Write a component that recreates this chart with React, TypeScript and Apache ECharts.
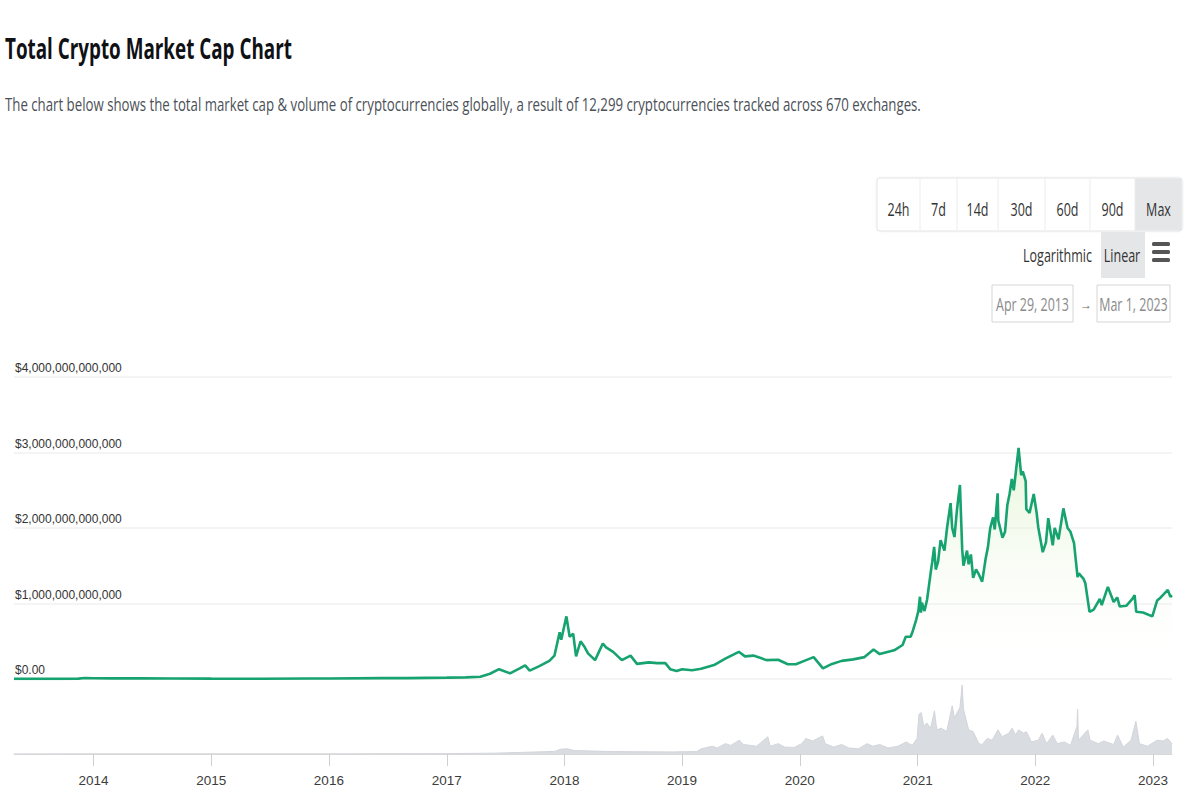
import React, { useEffect, useRef } from "react";
import * as echarts from "echarts";

// ---- Data ----
const title = "Total Crypto Market Cap Chart";
const subtitle =
  "The chart below shows the total market cap & volume of cryptocurrencies globally, a result of 12,299 cryptocurrencies tracked across 670 exchanges.";
const rangeButtons = ["24h", "7d", "14d", "30d", "60d", "90d", "Max"];
const startDate = "2013-04-29";
const endDate = "2023-03-01";
const startLabel = "Apr 29, 2013";
const endLabel = "Mar 1, 2023";
const yearLabels = ["2014", "2015", "2016", "2017", "2018", "2019", "2020", "2021", "2022", "2023"];

// Total market cap, billions of USD
const capDates = [
  "2013-04-29", "2013-07-01", "2013-10-01", "2013-11-15", "2013-12-04", "2014-01-01", "2014-03-01", "2014-06-01",
  "2014-09-01", "2015-01-01", "2015-06-01", "2015-11-04", "2016-01-01", "2016-06-15", "2016-09-01", "2017-01-01",
  "2017-03-01", "2017-04-15", "2017-05-15", "2017-06-12", "2017-07-16", "2017-08-15", "2017-09-01", "2017-09-15",
  "2017-10-15", "2017-11-15", "2017-12-01", "2017-12-17", "2017-12-22", "2018-01-07", "2018-01-17", "2018-01-28",
  "2018-02-06", "2018-02-20", "2018-03-05", "2018-03-15", "2018-04-06", "2018-04-30", "2018-05-10", "2018-06-01",
  "2018-06-28", "2018-07-25", "2018-08-14", "2018-09-20", "2018-10-15", "2018-11-10", "2018-11-25", "2018-12-15",
  "2019-01-01", "2019-02-01", "2019-03-01", "2019-04-10", "2019-05-15", "2019-06-26", "2019-07-15", "2019-08-10",
  "2019-09-20", "2019-10-26", "2019-11-25", "2019-12-20", "2020-01-15", "2020-02-13", "2020-03-13", "2020-04-10",
  "2020-05-10", "2020-06-15", "2020-07-20", "2020-08-17", "2020-09-05", "2020-10-20", "2020-11-15", "2020-11-25",
  "2020-12-10", "2020-12-17", "2020-12-27", "2021-01-03", "2021-01-08", "2021-01-11", "2021-01-14", "2021-01-22",
  "2021-01-30", "2021-02-10", "2021-02-15", "2021-02-21", "2021-02-26", "2021-03-05", "2021-03-13", "2021-03-25",
  "2021-04-02", "2021-04-13", "2021-04-18", "2021-04-25", "2021-05-03", "2021-05-12", "2021-05-19", "2021-05-23",
  "2021-06-03", "2021-06-08", "2021-06-15", "2021-06-22", "2021-07-01", "2021-07-08", "2021-07-20", "2021-07-31",
  "2021-08-07", "2021-08-14", "2021-08-23", "2021-08-28", "2021-09-06", "2021-09-08", "2021-09-21", "2021-09-29",
  "2021-10-06", "2021-10-13", "2021-10-20", "2021-10-26", "2021-11-10", "2021-11-18", "2021-11-23", "2021-12-02",
  "2021-12-04", "2021-12-14", "2021-12-27", "2022-01-05", "2022-01-10", "2022-01-24", "2022-02-03", "2022-02-10",
  "2022-02-24", "2022-03-02", "2022-03-14", "2022-03-29", "2022-04-11", "2022-04-20", "2022-05-01", "2022-05-12",
  "2022-05-16", "2022-05-30", "2022-06-05", "2022-06-18", "2022-07-01", "2022-07-20", "2022-07-26", "2022-08-14",
  "2022-09-01", "2022-09-12", "2022-09-20", "2022-10-10", "2022-10-29", "2022-11-05", "2022-11-10", "2022-12-01",
  "2022-12-30", "2023-01-14", "2023-01-25", "2023-02-16", "2023-02-24", "2023-03-01",
];
const capValues = [
  1.6, 1.2, 1.6, 5, 14, 10, 8, 8,
  6.5, 4.5, 3.5, 6.5, 7, 12, 11, 18,
  22, 30, 70, 130, 75, 140, 180, 110,
  170, 240, 310, 620, 520, 830, 560, 600,
  300, 500, 420, 340, 250, 470, 420, 360,
  250, 310, 200, 220, 210, 210, 130, 105,
  130, 115, 135, 185, 270, 360, 300, 310,
  250, 255, 195, 195, 240, 290, 140, 200,
  240, 260, 290, 390, 330, 380, 450, 560,
  560, 640, 780, 900, 1090, 880, 1010, 900,
  1050, 1400, 1550, 1750, 1450, 1550, 1840, 1700,
  2000, 2330, 2000, 1880, 2250, 2570, 1720, 1500,
  1700, 1520, 1650, 1340, 1450, 1400, 1290, 1600,
  1750, 2000, 2140, 1980, 2460, 2100, 1870, 1950,
  2300, 2450, 2650, 2500, 3060, 2700, 2750, 2620,
  2250, 2200, 2450, 2200, 2010, 1680, 1810, 2130,
  1770, 2000, 1850, 2260, 2000, 1950, 1800, 1350,
  1400, 1330, 1270, 890, 920, 1060, 980, 1220,
  1020, 1080, 960, 970, 1060, 1110, 890, 880,
  830, 1040, 1080, 1180, 1090, 1110,
];

// Total volume, billions of USD
const volDates = [
  "2013-04-29", "2014-01-01", "2016-01-01", "2017-01-01", "2017-06-01", "2017-12-01", "2017-12-20", "2018-01-10",
  "2018-02-01", "2018-06-01", "2018-12-01", "2019-01-01", "2019-02-15", "2019-03-01", "2019-04-05", "2019-04-20",
  "2019-05-15", "2019-06-01", "2019-06-27", "2019-07-10", "2019-08-01", "2019-08-20", "2019-09-24", "2019-10-01",
  "2019-10-26", "2019-11-15", "2019-12-15", "2020-01-07", "2020-01-20", "2020-02-10", "2020-03-12", "2020-03-20",
  "2020-04-15", "2020-05-10", "2020-06-01", "2020-07-01", "2020-07-28", "2020-08-15", "2020-09-05", "2020-10-01",
  "2020-11-01", "2020-11-26", "2020-12-15", "2020-12-30", "2021-01-05", "2021-01-12", "2021-01-20", "2021-01-29",
  "2021-02-10", "2021-02-22", "2021-03-01", "2021-03-15", "2021-04-01", "2021-04-18", "2021-04-25", "2021-05-12",
  "2021-05-19", "2021-05-23", "2021-06-08", "2021-06-22", "2021-07-10", "2021-07-20", "2021-08-05", "2021-08-20",
  "2021-09-07", "2021-09-20", "2021-10-10", "2021-10-21", "2021-11-01", "2021-11-10", "2021-11-26", "2021-12-04",
  "2021-12-20", "2022-01-10", "2022-01-22", "2022-02-05", "2022-02-24", "2022-03-10", "2022-04-01", "2022-04-20",
  "2022-05-10", "2022-05-12", "2022-05-15", "2022-06-13", "2022-06-20", "2022-07-15", "2022-08-01", "2022-09-01",
  "2022-09-13", "2022-10-01", "2022-10-25", "2022-11-09", "2022-11-20", "2022-12-15", "2023-01-14", "2023-02-01",
  "2023-02-15", "2023-03-01",
];
const volValues = [
  0.5, 1, 1, 2, 5, 15, 28, 30,
  20, 14, 12, 13, 14, 30, 45, 35,
  60, 50, 80, 55, 50, 45, 100, 45,
  60, 40, 38, 60, 90, 75, 105, 60,
  40, 55, 35, 30, 60, 45, 55, 35,
  45, 70, 50, 90, 230, 240, 160, 180,
  150, 250, 140, 150, 130, 280, 210, 270,
  400, 260, 140, 130, 60, 55, 90, 80,
  140, 100, 120, 150, 110, 140, 120, 130,
  70, 80, 120, 60, 110, 60, 70, 50,
  160, 260, 80, 140, 80, 60, 75, 55,
  110, 40, 80, 190, 60, 45, 80, 75,
  90, 60,
];

const FONT = '"Open Sans", "Noto Sans", sans-serif';
const AXIS_FONT = '"Liberation Sans", Arial, sans-serif';

const ts = (d: string) => {
  const [y, m, dd] = d.split("-").map(Number);
  return Date.UTC(y, m - 1, dd);
};

// horizontal squeeze factor so that a text spans a given width
const fitScale = (text: string, size: number, weight: string, width: number) => {
  const ctx = document.createElement("canvas").getContext("2d");
  if (!ctx) return 1;
  ctx.font = `${weight} ${size}px ${FONT}`;
  const w = ctx.measureText(text).width;
  return w > 0 ? width / w : 1;
};

export default function App() {
  const ref = useRef<HTMLDivElement>(null);

  useEffect(() => {
    if (!ref.current) return;
    const chart = echarts.init(ref.current, null, { renderer: "svg" });

    const capData = capDates.map((d, i) => [ts(d), capValues[i] * 1e9]);
    const volData = volDates.map((d, i) => [ts(d), volValues[i] * 1e9]);
    const yearTicks = yearLabels.map((y) => Date.UTC(Number(y), 0, 1));
    const xMin = ts(startDate);
    const xMax = ts(endDate);

    const titleScale = fitScale(title, 29, "bold", 287);
    const subScale = fitScale(subtitle, 19, "normal", 917);
    const btnScale = fitScale("Logarithmic", 19, "normal", 69);
    const dateScale = fitScale(startLabel, 18, "normal", 73);

    const txt = (text: string, x: number, y: number, size: number, scale: number, fill: string, align = "center", weight = "normal") => ({
      type: "text",
      x,
      y,
      scaleX: scale,
      style: {
        text,
        fontSize: size,
        fontWeight: weight,
        fontFamily: FONT,
        fill,
        align,
        verticalAlign: "middle",
      },
    });

    // range buttons layout
    const btnEdges = [877, 920, 957, 998, 1045, 1090, 1135, 1182];
    const btnElems: any[] = [];
    btnElems.push({
      type: "rect",
      shape: { x: 877, y: 178, width: 305, height: 53, r: 3 },
      style: { fill: "#ffffff", stroke: "#e4e4e4", lineWidth: 1, shadowBlur: 3, shadowColor: "rgba(0,0,0,0.06)" },
    });
    btnElems.push({
      type: "rect",
      shape: { x: 1135, y: 178.5, width: 46.5, height: 52 },
      style: { fill: "#e5e6e8" },
    });
    for (let i = 1; i < btnEdges.length - 1; i++) {
      btnElems.push({
        type: "line",
        shape: { x1: btnEdges[i], y1: 179, x2: btnEdges[i], y2: 230 },
        style: { stroke: "#ececec", lineWidth: 1 },
      });
    }
    rangeButtons.forEach((b, i) => {
      btnElems.push(txt(b, (btnEdges[i] + btnEdges[i + 1]) / 2, 209, 19, btnScale, "#333"));
    });

    const option: any = {
      animation: false,
      backgroundColor: "#ffffff",
      graphic: [
        txt(title, 5, 48, 29, titleScale, "#0f1115", "left", "bold"),
        txt(subtitle, 5, 104, 19, subScale, "#4b5057", "left"),
        ...btnElems,
        {
          type: "rect",
          shape: { x: 1101, y: 232, width: 44, height: 46 },
          style: { fill: "#e5e6e8" },
        },
        txt("Logarithmic", 1057.5, 255, 19, btnScale, "#333"),
        txt("Linear", 1122, 255, 19, btnScale, "#333"),
        { type: "rect", shape: { x: 1152, y: 242, width: 18, height: 4, r: 1.5 }, style: { fill: "#555" } },
        { type: "rect", shape: { x: 1152, y: 250, width: 18, height: 4, r: 1.5 }, style: { fill: "#555" } },
        { type: "rect", shape: { x: 1152, y: 258, width: 18, height: 4, r: 1.5 }, style: { fill: "#555" } },
        {
          type: "rect",
          shape: { x: 992, y: 285, width: 81, height: 37 },
          style: { fill: "#fff", stroke: "#d6d6d6", lineWidth: 1 },
        },
        txt(startLabel, 1032.5, 304, 18, dateScale, "#8a8a8a"),
        txt("→", 1086, 304, 12, 1, "#666"),
        {
          type: "rect",
          shape: { x: 1097, y: 285, width: 73, height: 37 },
          style: { fill: "#fff", stroke: "#d6d6d6", lineWidth: 1 },
        },
        txt(endLabel, 1133.5, 304, 18, dateScale, "#8a8a8a"),
      ],
      grid: [
        { left: 14, right: 28, top: 377, height: 302 },
        { left: 14, right: 28, top: 685, height: 69 },
      ],
      xAxis: [
        {
          type: "value",
          gridIndex: 0,
          min: xMin,
          max: xMax,
          show: false,
          splitLine: { show: false },
        },
        {
          type: "value",
          gridIndex: 1,
          min: xMin,
          max: xMax,
          axisLine: { show: true, lineStyle: { color: "#d8d8d8", width: 1 } },
          axisTick: {
            show: true,
            length: 12,
            lineStyle: { color: "#cfcfcf" },
            customValues: yearTicks,
          },
          axisLabel: {
            color: "#3c3c3c",
            fontSize: 13.5,
            fontFamily: AXIS_FONT,
            margin: 19,
            customValues: yearTicks,
            showMinLabel: true,
            showMaxLabel: true,
            formatter: (v: number) => String(new Date(v).getUTCFullYear()),
          },
          splitLine: { show: false },
        },
      ],
      yAxis: [
        {
          type: "value",
          gridIndex: 0,
          min: 0,
          max: 4e12,
          interval: 1e12,
          axisLine: { show: false },
          axisTick: { show: false },
          splitLine: { lineStyle: { color: "#f0f0f0", width: 1.5 } },
          axisLabel: {
            inside: true,
            align: "left",
            verticalAlign: "bottom",
            margin: 1,
            padding: [0, 0, 3, 0],
            color: "#333",
            fontSize: 12,
            fontFamily: AXIS_FONT,
            formatter: (v: number) => (v === 0 ? "$0.00" : "$" + v.toLocaleString("en-US")),
          },
        },
        {
          type: "value",
          gridIndex: 1,
          min: 0,
          max: "dataMax",
          show: false,
          splitLine: { show: false },
        },
      ],
      series: [
        {
          name: "Volume",
          type: "line",
          xAxisIndex: 1,
          yAxisIndex: 1,
          data: volData,
          symbol: "none",
          lineStyle: { color: "#d2d5da", width: 1 },
          areaStyle: { color: "#d9dce0", opacity: 1 },
          z: 1,
        },
        {
          name: "Market Cap",
          type: "line",
          xAxisIndex: 0,
          yAxisIndex: 0,
          data: capData,
          symbol: "none",
          lineStyle: { color: "#16a36f", width: 2.6 },
          areaStyle: {
            color: new echarts.graphic.LinearGradient(0, 0, 0, 1, [
              { offset: 0, color: "rgba(214, 238, 190, 0.85)" },
              { offset: 1, color: "rgba(255, 255, 255, 0)" },
            ]),
          },
          z: 3,
        },
      ],
    };

    chart.setOption(option);
    return () => chart.dispose();
  }, []);

  return (
    <div
      ref={ref}
      style={{ position: "absolute", left: 0, top: 0, width: 1200, height: 800, background: "#fff" }}
    />
  );
}
